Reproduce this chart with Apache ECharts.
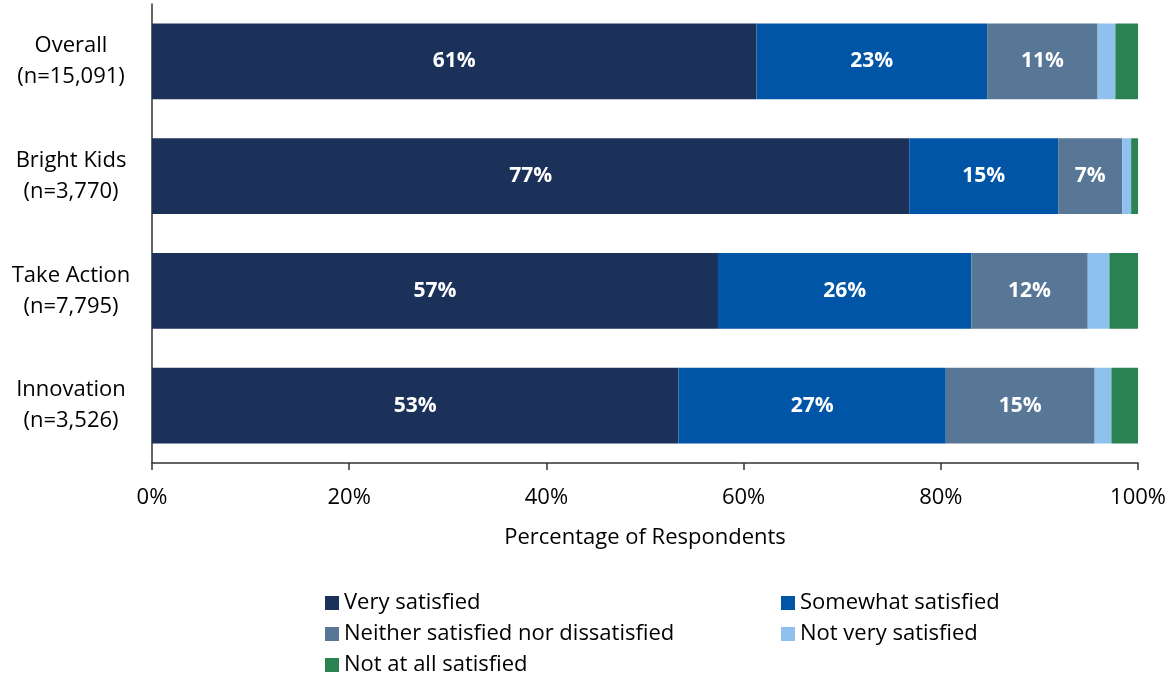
<!DOCTYPE html>
<html><head><meta charset="utf-8">
<script src="https://cdn.jsdelivr.net/npm/echarts@6/dist/echarts.min.js"></script>
<style>html,body{margin:0;padding:0;background:#fff}#c{width:1169px;height:677px}</style>
</head><body><div id="c"></div>
<script>
const categories = ['Overall\n(n=15,091)', 'Bright Kids\n(n=3,770)', 'Take Action\n(n=7,795)', 'Innovation\n(n=3,526)'];
const seriesNames = ['Very satisfied', 'Somewhat satisfied', 'Neither satisfied nor dissatisfied', 'Not very satisfied', 'Not at all satisfied'];
const verySatisfied = [61.3, 76.8, 57.4, 53.4];
const somewhatSatisfied = [23.4, 15.1, 25.7, 27.1];
const neither = [11.2, 6.5, 11.8, 15.1];
const notVery = [1.8, 0.9, 2.2, 1.7];
const notAtAll = [2.3, 0.7, 2.9, 2.7];
const xTicks = [0, 20, 40, 60, 80, 100];
const colors = ['#1b3159', '#0055a6', '#587796', '#8fc1ef', '#2a8253'];
const values = [verySatisfied, somewhatSatisfied, neither, notVery, notAtAll];
const showLabel = [true, true, true, false, false];
const font = '"Open Sans", "Noto Sans", sans-serif';

const series = seriesNames.map((n, i) => ({
  name: n, type: 'bar', stack: 'total', data: values[i],
  barCategoryGap: '34%',
  itemStyle: { color: colors[i] },
  label: {
    show: showLabel[i], position: 'inside', color: '#fff', fontWeight: 'bold',
    fontSize: 21, fontFamily: font,
    formatter: p => p.value >= 5 ? Math.round(p.value) + '%' : ''
  }
}));

const legendPos = [[325, 592], [781, 592], [325, 623], [781, 623], [325, 654]];
const legends = seriesNames.map((n, i) => ({
  data: [n], left: legendPos[i][0], top: legendPos[i][1], padding: 0,
  itemWidth: 14, itemHeight: 14, itemGap: 0, icon: 'rect',
  textStyle: { fontSize: 22, fontFamily: font, color: '#000' },
  selectedMode: false
}));

const chart = echarts.init(document.getElementById('c'));
chart.setOption({
  animation: false,
  legend: legends,
  grid: { left: 152, right: 30, top: 4, bottom: 214, containLabel: false },
  xAxis: {
    type: 'value', min: 0, max: 100, interval: 20,
    name: 'Percentage of Respondents', nameLocation: 'middle', nameGap: 64,
    nameTextStyle: { fontSize: 22, fontFamily: font, color: '#000' },
    axisLine: { show: true, lineStyle: { color: '#333', width: 1.5 } },
    axisTick: { show: true, length: 7, lineStyle: { color: '#333', width: 1.5 } },
    splitLine: { show: false },
    axisLabel: { fontSize: 22, fontFamily: font, color: '#000', margin: 24,
      formatter: v => xTicks.includes(v) ? v + '%' : '' }
  },
  yAxis: {
    type: 'category', data: categories, inverse: true,
    axisLine: { show: true, lineStyle: { color: '#333', width: 1.5 } },
    axisTick: { show: false },
    axisLabel: { fontSize: 22, fontFamily: font, color: '#000', align: 'center', margin: 81, lineHeight: 31 }
  },
  series: series
});
</script></body></html>
